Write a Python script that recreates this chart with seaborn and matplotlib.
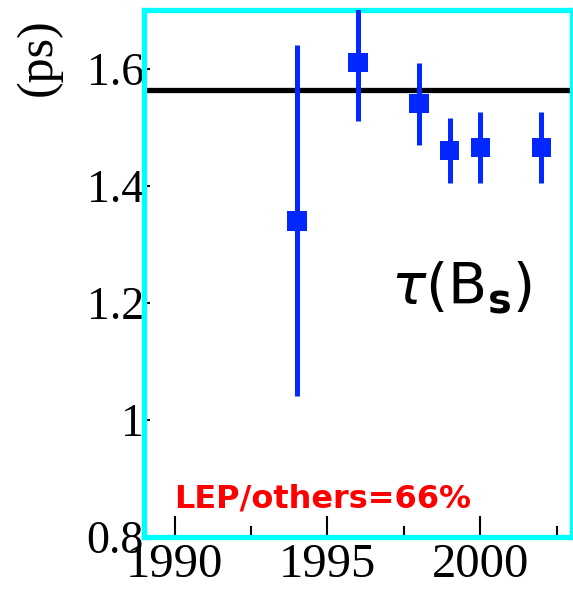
import matplotlib
matplotlib.use("Agg")
import matplotlib.pyplot as plt
import seaborn as sns
import pandas as pd

# B_s lifetime measurements by year
years = [1994, 1996, 1998, 1999, 2000, 2002]
tau = [1.34, 1.61, 1.54, 1.46, 1.465, 1.465]
tau_err = [0.30, 0.10, 0.07, 0.056, 0.06, 0.06]
world_average = 1.564

x_ticks = [1990, 1995, 2000]
y_ticks = [0.8, 1.0, 1.2, 1.4, 1.6]
y_tick_labels = ["0.8", "1", "1.2", "1.4", "1.6"]

df = pd.DataFrame({"year": years, "tau": tau, "err": tau_err})

sns.set_style("white")
plt.rcParams["font.family"] = ["Liberation Serif", "DejaVu Serif"]
plt.rcParams["text.color"] = "black"
plt.rcParams["xtick.color"] = "black"
plt.rcParams["ytick.color"] = "black"

blue = "#0328FF"
fig = plt.figure(figsize=(5.73, 5.91), dpi=100)
ax = fig.add_axes([144 / 573, 1 - 537 / 591, (572 - 144) / 573, (537 - 10) / 591])

ax.axhline(world_average, color="black", lw=3.8, zorder=2)
ax.errorbar(df["year"], df["tau"], yerr=df["err"], fmt="none",
            ecolor=blue, elinewidth=3.6, capsize=0, zorder=3)
sns.scatterplot(data=df, x="year", y="tau", marker="s", s=14.0 ** 2,
                color=blue, edgecolor="none", linewidth=0, ax=ax, zorder=4)

ax.set_xlim(1989, 2003)
ax.set_ylim(0.8, 1.7)
ax.set_xticks(x_ticks)
ax.set_xticks([1992.5, 1997.5, 2002.5], minor=True)
ax.set_yticks(y_ticks)
ax.set_yticklabels(y_tick_labels)
ax.set_xlabel("")
ax.set_ylabel("")

ax.tick_params(axis="x", which="major", direction="in", length=15, width=1.5,
               pad=4, labelsize=35, colors="black", bottom=True)
ax.tick_params(axis="x", which="minor", direction="in", length=8, width=1.5,
               colors="black", bottom=True)
ax.tick_params(axis="y", which="major", direction="in", length=4, width=1.5,
               pad=0, labelsize=33, colors="black", left=True)

for sp in ax.spines.values():
    sp.set_color("#00FFFF")
    sp.set_linewidth(3.8)
    sp.set_visible(True)

ax.text(1997.07, 1.197, r"$\tau$(B$_{\mathbf{s}}$)", fontsize=41,
        family="DejaVu Sans", ha="left", va="baseline", color="black")
ax.text(1990.0, 0.8496, "LEP/others=66%", fontsize=23, family="DejaVu Sans",
        fontweight="bold", color="#FF0000", ha="left", va="baseline")

fig.text(38 / 573, 1 - 57 / 591, "(ps)", rotation=90, fontsize=36,
         ha="center", va="center", color="black")

fig.savefig("out.png", dpi=100, facecolor="white")
